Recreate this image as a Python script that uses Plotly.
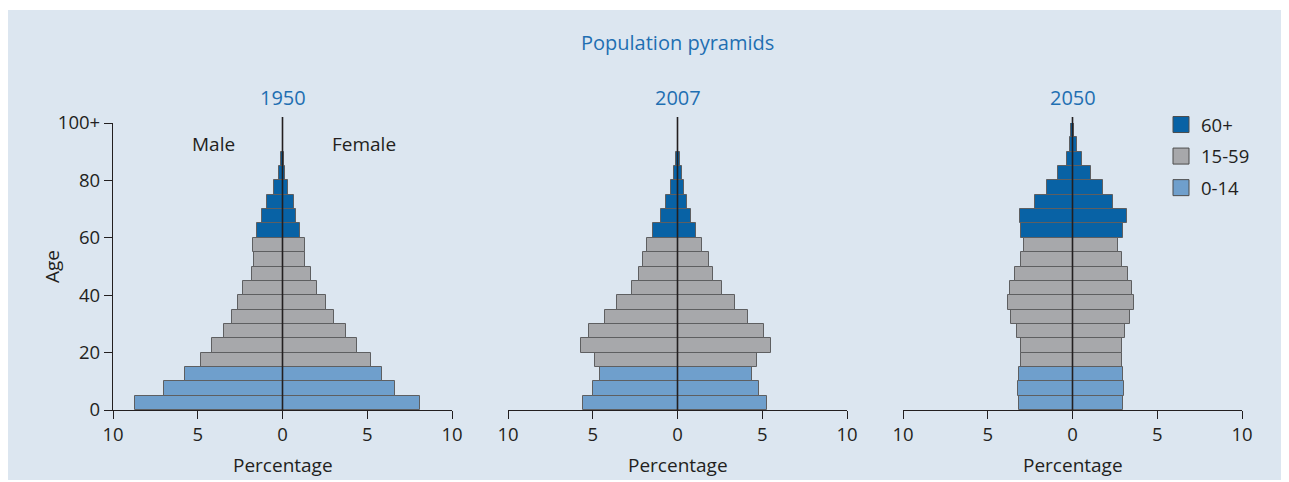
"""
Population pyramids for 1950, 2007 and 2050, drawn with Plotly.
"""

import plotly.graph_objects as go

# 5-year age groups (start age); the last one shown is 95-99
AGE_START = [0, 5, 10, 15, 20, 25, 30, 35, 40, 45,
             50, 55, 60, 65, 70, 75, 80, 85, 90, 95]
GROUP_OF_AGE = ['0-14'] * 3 + ['15-59'] * 9 + ['60+'] * 8

YEARS = ['1950', '2007', '2050']

MALE_1950 = [8.7, 7.0, 5.75, 4.8, 4.15, 3.45, 3.0, 2.6, 2.35, 1.8,
             1.7, 1.75, 1.5, 1.2, 0.9, 0.5, 0.22, 0.1, 0.0, 0.0]
FEMALE_1950 = [8.1, 6.65, 5.85, 5.25, 4.4, 3.75, 3.05, 2.55, 2.05, 1.7,
               1.35, 1.3, 1.05, 0.8, 0.65, 0.33, 0.14, 0.06, 0.0, 0.0]

MALE_2007 = [5.55, 5.0, 4.6, 4.85, 5.7, 5.25, 4.25, 3.55, 2.7, 2.25,
             2.05, 1.8, 1.45, 1.0, 0.68, 0.38, 0.18, 0.08, 0.0, 0.0]
FEMALE_2007 = [5.3, 4.8, 4.4, 4.7, 5.5, 5.1, 4.15, 3.4, 2.6, 2.1,
               1.85, 1.45, 1.1, 0.82, 0.58, 0.4, 0.24, 0.12, 0.0, 0.0]

MALE_2050 = [3.15, 3.2, 3.15, 3.05, 3.05, 3.25, 3.6, 3.8, 3.7, 3.4,
             3.05, 2.85, 3.05, 3.1, 2.2, 1.5, 0.85, 0.35, 0.15, 0.06]
FEMALE_2050 = [3.0, 3.05, 3.0, 2.9, 2.9, 3.1, 3.4, 3.6, 3.5, 3.25,
               2.9, 2.7, 3.0, 3.2, 2.4, 1.78, 1.12, 0.57, 0.28, 0.1]

MALE = [MALE_1950, MALE_2007, MALE_2050]
FEMALE = [FEMALE_1950, FEMALE_2007, FEMALE_2050]

LEGEND_GROUPS = ['60+', '15-59', '0-14']
GROUP_COLORS = {'60+': '#0862a5', '15-59': '#a7a8ab', '0-14': '#6f9fcc'}

X_TICKS = [-10, -5, 0, 5, 10]
X_TICK_TEXT = ['10', '5', '0', '5', '10']
Y_TICKS = [0, 20, 40, 60, 80, 100]
Y_TICK_TEXT = ['0', '20', '40', '60', '80', '100+']

# the page body has an 8px margin, so the figure is a little smaller
PAGE_OFFSET = 8
W, H = 1289 - PAGE_OFFSET, 482 - PAGE_OFFSET
FONT = 'Open Sans, Noto Sans, sans-serif'
TEXT_COLOR = '#231f20'
TITLE_BLUE = '#1f6fb2'
BG_BLUE = '#dce6f0'
BAR_EDGE = '#5e5f61'
TICK_SIZE = 18.5
LABEL_SIZE = 19
TITLE_SIZE = 20

# panel positions in page pixels
PANEL_X = [(113, 452), (508, 847), (903, 1242)]
Y_BOTTOM_PX, Y_TOP_PX = 410, 123


def px_x(p):
    return (p - PAGE_OFFSET) / W


def px_y(p):
    return 1 - (p - PAGE_OFFSET) / H


def text_font(size, color=TEXT_COLOR):
    return dict(size=size, color=color, family=FONT)


fig = go.Figure()

for i, year in enumerate(YEARS):
    suffix = '' if i == 0 else str(i + 1)
    for grp in LEGEND_GROUPS:
        idx = [k for k, g in enumerate(GROUP_OF_AGE)
               if g == grp and (MALE[i][k] > 0 or FEMALE[i][k] > 0)]
        ys = [AGE_START[k] + 2.5 for k in idx]
        for sign, values in ((-1, MALE[i]), (1, FEMALE[i])):
            fig.add_trace(go.Bar(
                x=[sign * values[k] for k in idx],
                y=ys,
                width=5,
                orientation='h',
                marker=dict(color=GROUP_COLORS[grp],
                            line=dict(color=BAR_EDGE, width=1)),
                xaxis='x' + suffix,
                yaxis='y' + suffix,
                showlegend=False,
                hoverinfo='skip',
            ))

# legend entries (square swatches)
for grp in LEGEND_GROUPS:
    fig.add_trace(go.Scatter(
        x=[None], y=[None],
        mode='markers',
        name=grp,
        legendgroup=grp,
        marker=dict(symbol='square', size=16, color=GROUP_COLORS[grp],
                    line=dict(color='#4d4d4d', width=1)),
    ))

axis_common = dict(
    showgrid=False, zeroline=False, showline=True, automargin=False,
    linecolor=TEXT_COLOR, linewidth=1.3,
    ticks='outside', ticklen=8, tickwidth=1.3, tickcolor=TEXT_COLOR,
    tickfont=text_font(TICK_SIZE),
    fixedrange=True,
)

layout_axes = {}
y_domain = [px_y(Y_BOTTOM_PX), px_y(Y_TOP_PX)]
for i in range(3):
    suffix = '' if i == 0 else str(i + 1)
    x0, x1 = PANEL_X[i]
    layout_axes['xaxis' + suffix] = dict(
        axis_common,
        domain=[px_x(x0), px_x(x1)],
        range=[-10, 10],
        tickvals=X_TICKS, ticktext=X_TICK_TEXT,
        anchor='y' + suffix,
    )
    yax = dict(
        axis_common,
        domain=y_domain,
        range=[0, 100],
        tickvals=Y_TICKS, ticktext=Y_TICK_TEXT,
        anchor='x' + suffix,
    )
    if i > 0:
        yax['visible'] = False
    layout_axes['yaxis' + suffix] = yax

shapes = [dict(
    type='rect', xref='paper', yref='paper',
    x0=0, x1=1, y0=px_y(480), y1=px_y(10),
    fillcolor=BG_BLUE, line=dict(width=0), layer='below',
)]
for i in range(3):
    suffix = '' if i == 0 else str(i + 1)
    shapes.append(dict(
        type='line', xref='x' + suffix, yref='paper',
        x0=0, x1=0, y0=px_y(Y_BOTTOM_PX), y1=px_y(117),
        line=dict(color=TEXT_COLOR, width=1.6), layer='above',
    ))

centered = dict(xanchor='center', yanchor='middle', showarrow=False)
annotations = [dict(
    centered, text='Population pyramids', xref='paper', yref='paper',
    x=px_x(677), y=px_y(42), font=text_font(TITLE_SIZE, TITLE_BLUE),
)]
for i, year in enumerate(YEARS):
    x0, x1 = PANEL_X[i]
    cx = px_x((x0 + x1) / 2)
    annotations.append(dict(
        centered, text=year, xref='paper', yref='paper', x=cx, y=px_y(97),
        font=text_font(TITLE_SIZE, TITLE_BLUE),
    ))
    annotations.append(dict(
        centered, text='Percentage', xref='paper', yref='paper',
        x=cx, y=px_y(465), font=text_font(LABEL_SIZE),
    ))
annotations += [
    dict(centered, text='Male', xref='x', yref='y', x=-4.1, y=92.7,
         font=text_font(LABEL_SIZE)),
    dict(centered, text='Female', xref='x', yref='y', x=4.8, y=92.7,
         font=text_font(LABEL_SIZE)),
    dict(centered, text='Age', xref='paper', yref='paper',
         x=px_x(52), y=px_y(267), textangle=-90,
         font=text_font(LABEL_SIZE)),
]

fig.update_layout(
    width=W,
    height=H,
    margin=dict(l=0, r=0, t=0, b=0, autoexpand=False),
    paper_bgcolor='white',
    plot_bgcolor='rgba(0,0,0,0)',
    barmode='overlay',
    bargap=0,
    font=dict(family=FONT, color=TEXT_COLOR),
    showlegend=True,
    legend=dict(
        x=px_x(1161), y=px_y(106), xanchor='left', yanchor='top',
        bgcolor='rgba(0,0,0,0)', tracegroupgap=4.5,
        font=text_font(TICK_SIZE),
    ),
    shapes=shapes,
    annotations=annotations,
    **layout_axes,
)

fig.write_html("out.html")
